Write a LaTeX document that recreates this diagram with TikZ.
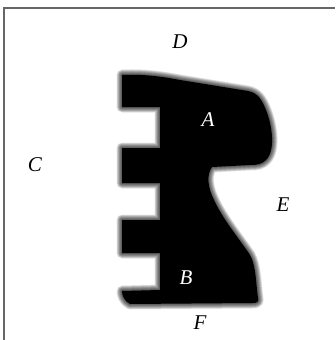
\documentclass[tikz,border=0pt]{standalone}
\usepackage{fontspec}
\setmainfont{Liberation Serif}
\usetikzlibrary{positioning}

\newcommand{\blobpath}{%
  (122,75) .. controls (140,74) and (160,76) .. (180,80)
  -- (248,91) .. controls (258,93) and (262,100) .. (266,110)
  .. controls (272,125) and (276,150) .. (266,160)
  .. controls (262,164) and (258,165) .. (250,165)
  -- (212,167) .. controls (206,175) and (208,188) .. (214,200)
  .. controls (222,218) and (240,240) .. (250,255)
  .. controls (256,265) and (256,285) .. (258,298)
  .. controls (259,302) and (257,303) .. (252,303)
  -- (130,304) .. controls (124,301) and (122,295) .. (122,291)
  -- (160,290) -- (160,253) -- (122,253) -- (122,220)
  -- (160,220) -- (160,183) -- (122,183) -- (122,148)
  -- (160,148) -- (160,107) -- (122,107) -- cycle}

\begin{document}
\begin{tikzpicture}[
    x=1pt, y=-1pt,
    frameline/.style={draw=black!60, line width=2pt},
    blur/.style={draw=black, line join=round, draw opacity=0.09},
    outlbl/.style={font=\fontsize{21}{25}\selectfont\itshape, text=black},
    inlbl/.style={font=\fontsize{21}{25}\selectfont\itshape, text=white}
  ]
    \useasboundingbox (0,0) rectangle (335,340);

    % Frame
    \coordinate (fbl) at (4,340);
    \coordinate (ftl) at (4,8);
    \coordinate (ftr) at (335,8);
    \draw[frameline] (fbl) -- (ftl) -- (ftr);

    % Blurred region
    \foreach \w in {11,10,...,1} {
        \draw[blur, line width=\w pt] \blobpath;
    }
    \fill[black] \blobpath;

    % Labels
    \node[outlbl] (D) at (180,42)  {D};
    \node[outlbl] (C) at (35,165)  {C};
    \node[outlbl] (E) at (283,205) {E};
    \node[outlbl] (F) at (200,323) {F};
    \node[inlbl]  (A) at (208,120) {A};
    \node[inlbl]  (B) at (186,278) {B};
\end{tikzpicture}
\end{document}
